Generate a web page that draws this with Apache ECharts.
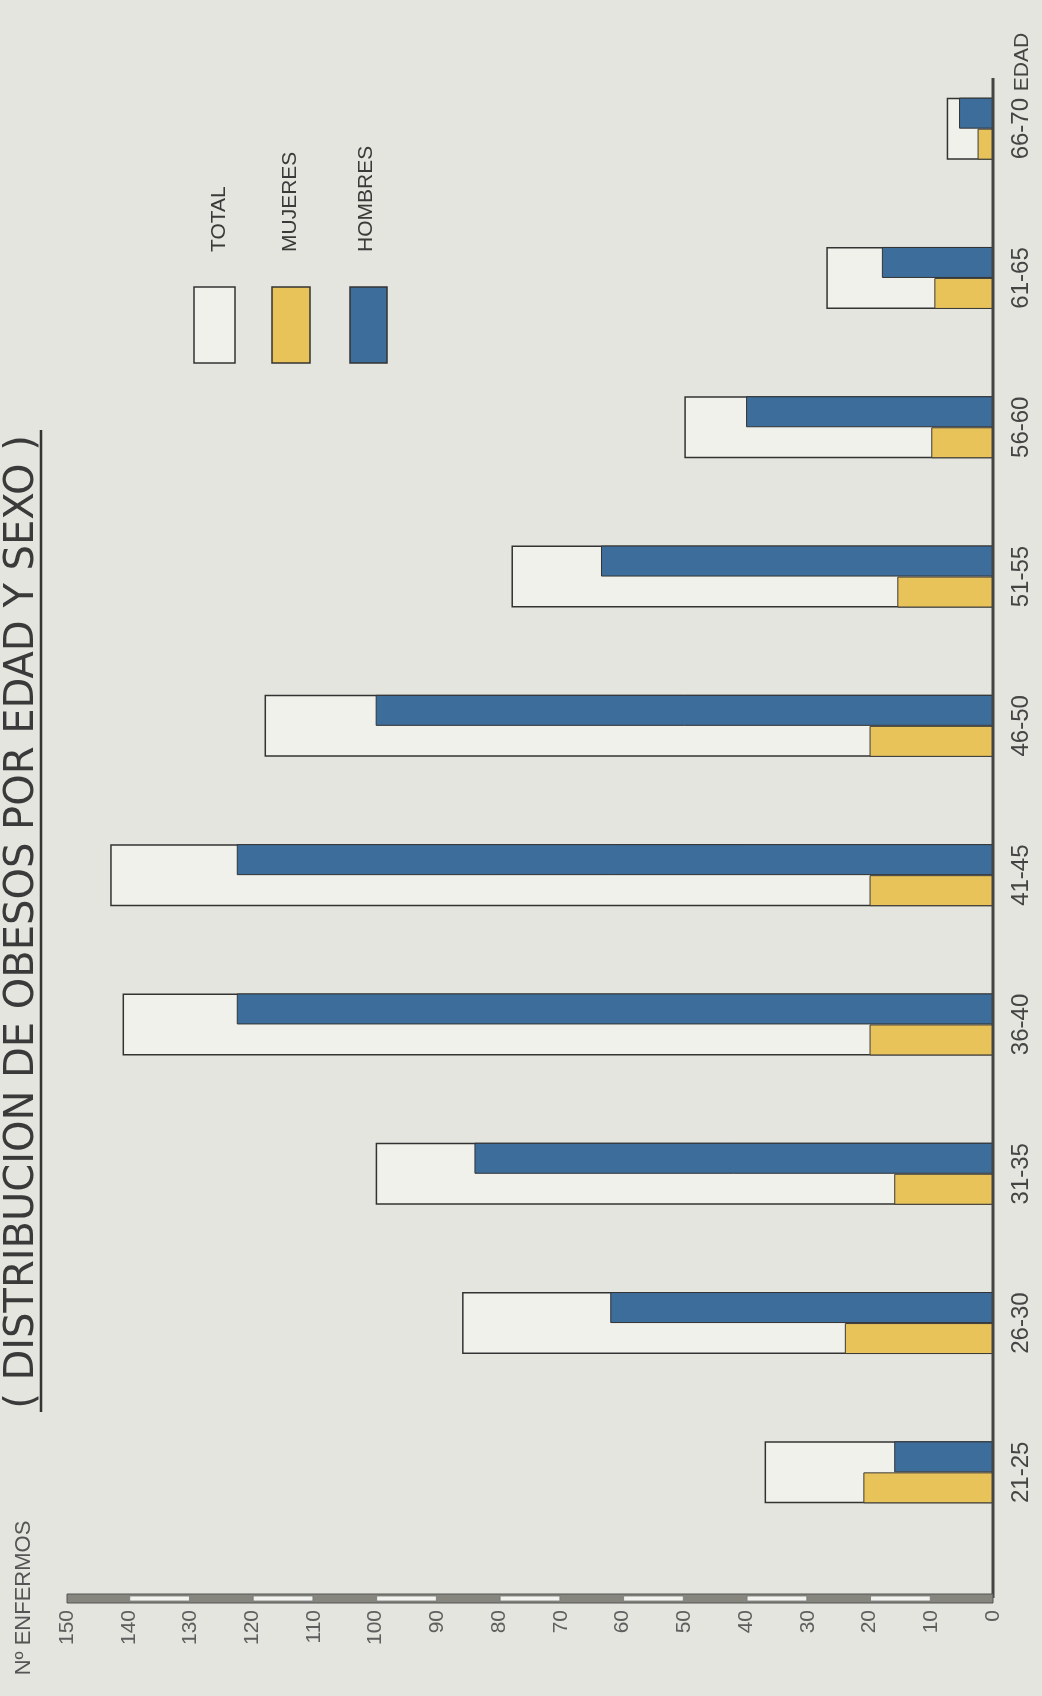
<!DOCTYPE html>
<html><head><meta charset="utf-8">
<script src="https://cdn.jsdelivr.net/npm/echarts@6/dist/echarts.min.js"></script>
<style>html,body{margin:0;padding:0;background:#E4E5DE}#c{width:1042px;height:1696px}</style>
</head><body><div id="c"></div>
<script>
const categories = ['21-25','26-30','31-35','36-40','41-45','46-50','51-55','56-60','61-65','66-70'];
const totalValues   = [37, 86, 100, 141, 143, 118, 78, 50, 27, 7.5];
const mujeresValues = [21, 24, 16, 20, 20, 20, 15.5, 10, 9.5, 2.5];
const hombresValues = [16, 62, 84, 122.5, 122.5, 100, 63.5, 40, 18, 5.5];
const legendNames = ['TOTAL','MUJERES','HOMBRES'];
const titleText = '( DISTRIBUCION DE OBESOS POR EDAD Y SEXO )';
const xAxisName = 'Nº ENFERMOS';
const yAxisName = 'EDAD';
const rulerLight = [[130,140],[110,120],[90,100],[70,80],[50,60],[30,40],[10,20]];

const paper = '#E4E5DE';
const ink = '#3a3a3a';
const chart = echarts.init(document.getElementById('c'), null, {renderer:'canvas'});
chart.setOption({
  backgroundColor: paper,
  animation: false,
  grid: {left:67, right:49, top:54, bottom:149, containLabel:false},
  xAxis: {
    type:'value', inverse:true, min:0, max:150, interval:10, position:'bottom', offset:51,
    axisLine:{show:false}, axisTick:{show:false}, splitLine:{show:false},
    axisLabel:{rotate:90, fontSize:21, color:'#5e5e5e', fontFamily:'Liberation Sans', margin:12},
    name:xAxisName, nameLocation:'end', nameRotate:90, nameGap:32,
    nameTextStyle:{fontSize:22, color:'#555', fontFamily:'Liberation Sans'}
  },
  yAxis: [
    {type:'category', data:categories, position:'right',
     axisLine:{show:false}, axisTick:{show:false}, splitLine:{show:false},
     axisLabel:{rotate:90, fontSize:24, color:'#444', fontFamily:'Liberation Sans', margin:16}},
    {type:'category', data:categories, show:false}
  ],
  series: [
    {name:'TOTAL', type:'bar', yAxisIndex:1, data:totalValues, barWidth:62, z:1,
     itemStyle:{color:'#F1F1EC', borderColor:'#333', borderWidth:1.5}},
    {name:'HOMBRES', type:'bar', yAxisIndex:0, data:hombresValues, barWidth:31, barGap:'0%', z:2,
     itemStyle:{color:'#3D6D9B', borderColor:'#333', borderWidth:1}},
    {name:'MUJERES', type:'bar', yAxisIndex:0, data:mujeresValues, barWidth:31, barGap:'0%', z:2,
     itemStyle:{color:'#E8C35A', borderColor:'#3a3a3a', borderWidth:1}}
  ]
});

const px = v => chart.convertToPixel({xAxisIndex:0}, v);
const x0 = px(0);
const rulerY = 1598;
const g = [];
// vertical axis line
g.push({type:'line', shape:{x1:x0, y1:78, x2:x0, y2:rulerY}, style:{stroke:'#444', lineWidth:3}, z:10});
// axis name EDAD
g.push({type:'text', x:1022, y:62, rotation:Math.PI/2, z:10,
  style:{text:yAxisName, x:0, y:0, align:'center', verticalAlign:'middle', font:'21px "Liberation Sans"', fill:'#444'}});
// ruler
g.push({type:'rect', shape:{x:px(150), y:rulerY-4, width:x0-px(150), height:9}, style:{fill:'#86867f', stroke:'#555', lineWidth:1}, z:10});
rulerLight.forEach(([a,b]) => {
  g.push({type:'rect', shape:{x:px(b)+1, y:rulerY-2, width:px(a)-px(b)-2, height:5}, style:{fill:'#F2F2EE', stroke:'#777', lineWidth:0.8}, z:11});
});
// title
g.push({type:'text', x:23, y:922, rotation:Math.PI/2, z:10,
  style:{text:titleText, x:0, y:0, align:'center', verticalAlign:'middle', font:'40px "DejaVu Sans"', fill:ink}});
g.push({type:'line', shape:{x1:41, y1:430, x2:41, y2:1412}, style:{stroke:'#333', lineWidth:2.5}, z:10});
// legend
const legRects = [[194,41,'#F1F1EC'],[272,38,'#E8C35A'],[350,37,'#3D6D9B']];
const legTextX = [219,290,366];
legendNames.forEach((n,i) => {
  g.push({type:'rect', shape:{x:legRects[i][0], y:287, width:legRects[i][1], height:76}, style:{fill:legRects[i][2], stroke:'#333', lineWidth:1.5}, z:10});
  g.push({type:'text', x:legTextX[i], y:252, rotation:Math.PI/2, z:10,
    style:{text:n, x:0, y:0, align:'left', verticalAlign:'middle', font:'21px "Liberation Sans"', fill:ink}});
});
chart.setOption({graphic:g});
</script>
</body></html>
